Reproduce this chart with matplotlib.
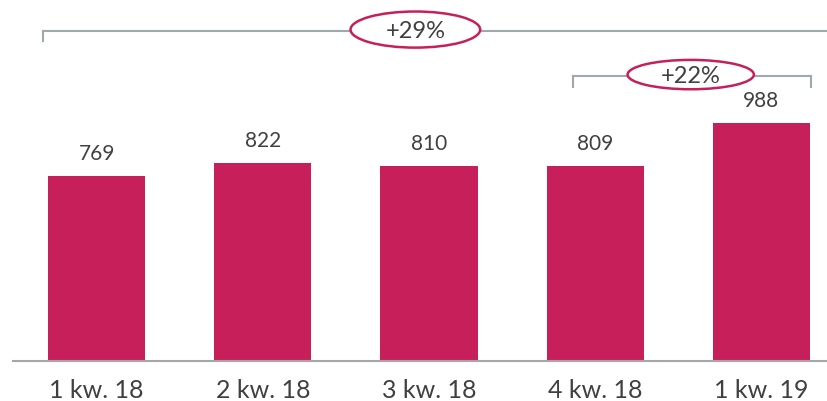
import matplotlib
matplotlib.use("Agg")
import matplotlib.pyplot as plt
from matplotlib.patches import Ellipse

plt.rcParams["font.family"] = ["Lato", "DejaVu Sans"]

# 数据
categories = ["1 kw. 18", "2 kw. 18", "3 kw. 18", "4 kw. 18", "1 kw. 19"]
values = [769, 822, 810, 809, 988]
growth_labels = ["+29%", "+22%"]

BAR_COLOR = "#C71F5A"
TEXT_COLOR = "#404040"
BRACKET_COLOR = "#9FA8AD"

fig = plt.figure(figsize=(8.27, 4.02), dpi=100)
ax = fig.add_axes([13 / 827, 40 / 402, 814 / 827, 362 / 402])

x = list(range(len(categories)))
ax.bar(x, values, width=0.585, color=BAR_COLOR, zorder=2)

for xi, v in zip(x, values):
    ax.text(xi, v + 55, str(v), ha="center", va="bottom",
            fontsize=15, color=TEXT_COLOR)

ax.set_xlim(-0.503, 4.395)
ax.set_ylim(0, 1504)
ax.set_xticks(x)
ax.set_xticklabels(categories, fontsize=18, color=TEXT_COLOR)
ax.tick_params(axis="x", length=0, pad=12)
ax.set_yticks([])
for s in ["top", "right", "left"]:
    ax.spines[s].set_visible(False)
ax.spines["bottom"].set_color("#A6A6A6")
ax.spines["bottom"].set_linewidth(1.5)


def bracket(x0, x1, y, drop, label, ex, ew, eh, left_tick=True, right_tick=True):
    ax.plot([x0, x1], [y, y], color=BRACKET_COLOR, lw=1.5, clip_on=False, zorder=1)
    if left_tick:
        ax.plot([x0, x0], [y, y - drop], color=BRACKET_COLOR, lw=1.5, clip_on=False)
    if right_tick:
        ax.plot([x1, x1], [y, y - drop], color=BRACKET_COLOR, lw=1.5, clip_on=False)
    ax.add_patch(Ellipse((ex, y + 6), ew, eh, facecolor="white",
                         edgecolor=BAR_COLOR, lw=1.8, zorder=3, clip_on=False))
    ax.text(ex, y + 2, label, ha="center", va="center", fontsize=17,
            color=TEXT_COLOR, zorder=4)


# 1 kw. 18 -> 1 kw. 19
bracket(-0.322, 4.395, 1371, 42, growth_labels[0], 1.918, 0.78, 150, right_tick=False)
# 4 kw. 18 -> 1 kw. 19
bracket(2.864, 4.298, 1184, 46, growth_labels[1], 3.575, 0.76, 122)

fig.savefig("out.png", dpi=100)
